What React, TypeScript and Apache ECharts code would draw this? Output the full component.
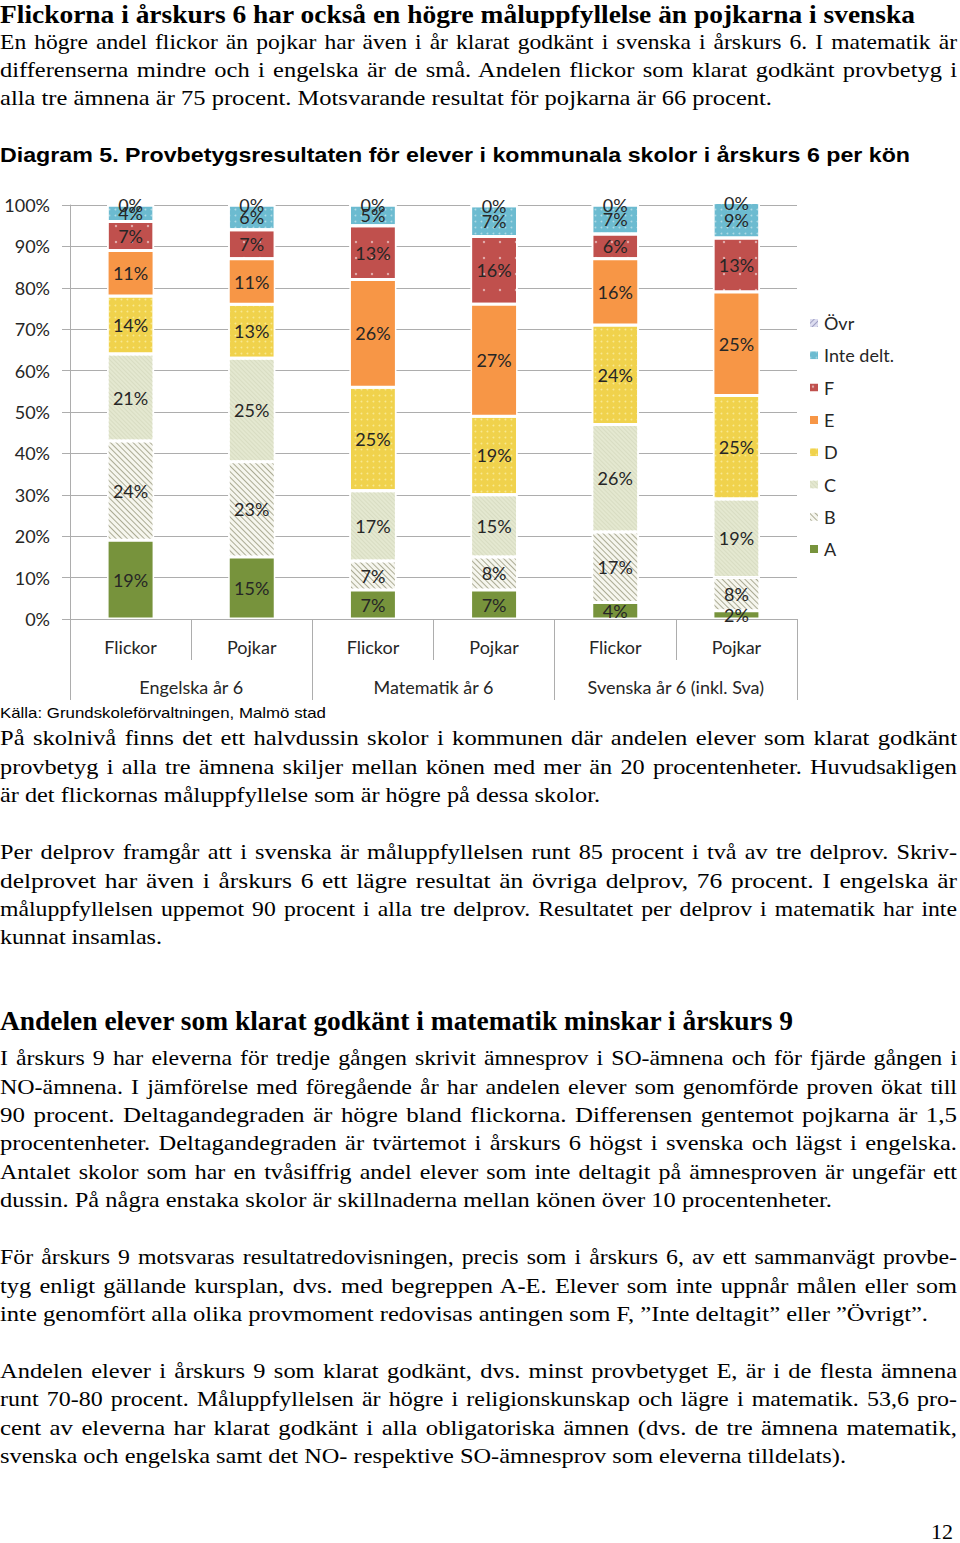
import React, { useEffect, useLayoutEffect, useRef } from 'react';
import * as echarts from 'echarts';

// ---------- chart data ----------
const categories = ['Flickor', 'Pojkar', 'Flickor', 'Pojkar', 'Flickor', 'Pojkar'];
const subjects = ['Engelska år 6', 'Matematik år 6', 'Svenska år 6 (inkl. Sva)'];
const gradeA = [19, 15, 7, 7, 4, 2];
const gradeB = [24, 23, 7, 8, 17, 8];
const gradeC = [21, 25, 17, 15, 26, 19];
const gradeD = [14, 13, 25, 19, 24, 25];
const gradeE = [11, 11, 26, 27, 16, 25];
const gradeF = [7, 7, 13, 16.4, 6, 13];
const inteDelt = [4, 6, 5, 7.4, 7, 8.6];
const ovr = [0, 0, 0, 0, 0, 0];
const yTicks = [0, 100, 10];
const legendOrder = ['Övr', 'Inte delt.', 'F', 'E', 'D', 'C', 'B', 'A'];

// ---------- page text ----------
const SERIF = '"Liberation Serif", "DejaVu Serif", serif';
const SANS = '"Liberation Sans", Arial, sans-serif';

type Ln = { t: string; y: number; w: number; j?: boolean };
type Block = { lines: Ln[]; font: string; size: number; weight?: number };

const FULL = 957;

const blocks: Block[] = [
  { font: SERIF, size: 26, weight: 700, lines: [
    { t: 'Flickorna i årskurs 6 har också en högre måluppfyllelse än pojkarna i svenska', y: 15, w: 915 },
  ] },
  { font: SERIF, size: 22, lines: [
    { t: 'En högre andel flickor än pojkar har även i år klarat godkänt i svenska i årskurs 6. I matematik är', y: 42, w: FULL, j: true },
    { t: 'differenserna mindre och i engelska är de små. Andelen flickor som klarat godkänt provbetyg i', y: 70, w: FULL, j: true },
    { t: 'alla tre ämnena är 75 procent. Motsvarande resultat för pojkarna är 66 procent.', y: 98, w: 772 },
  ] },
  { font: SANS, size: 21, weight: 700, lines: [
    { t: 'Diagram 5. Provbetygsresultaten för elever i kommunala skolor i årskurs 6 per kön', y: 155, w: 910 },
  ] },
  { font: SANS, size: 15, lines: [
    { t: 'Källa: Grundskoleförvaltningen, Malmö stad', y: 713, w: 326 },
  ] },
  { font: SERIF, size: 22, lines: [
    { t: 'På skolnivå finns det ett halvdussin skolor i kommunen där andelen elever som klarat godkänt', y: 738, w: FULL, j: true },
    { t: 'provbetyg i alla tre ämnena skiljer mellan könen med mer än 20 procentenheter. Huvudsakligen', y: 767, w: FULL, j: true },
    { t: 'är det flickornas måluppfyllelse som är högre på dessa skolor.', y: 795, w: 600 },
  ] },
  { font: SERIF, size: 22, lines: [
    { t: 'Per delprov framgår att i svenska är måluppfyllelsen runt 85 procent i två av tre delprov. Skriv-', y: 852, w: FULL, j: true },
    { t: 'delprovet har även i årskurs 6 ett lägre resultat än övriga delprov, 76 procent. I engelska är', y: 881, w: FULL, j: true },
    { t: 'måluppfyllelsen uppemot 90 procent i alla tre delprov. Resultatet per delprov i matematik har inte', y: 909, w: FULL, j: true },
    { t: 'kunnat insamlas.', y: 937, w: 162 },
  ] },
  { font: SERIF, size: 27, weight: 700, lines: [
    { t: 'Andelen elever som klarat godkänt i matematik minskar i årskurs 9', y: 1022, w: 793 },
  ] },
  { font: SERIF, size: 22, lines: [
    { t: 'I årskurs 9 har eleverna för tredje gången skrivit ämnesprov i SO-ämnena och för fjärde gången i', y: 1058, w: FULL, j: true },
    { t: 'NO-ämnena. I jämförelse med föregående år har andelen elever som genomförde proven ökat till', y: 1087, w: FULL, j: true },
    { t: '90 procent. Deltagandegraden är högre bland flickorna. Differensen gentemot pojkarna är 1,5', y: 1115, w: FULL, j: true },
    { t: 'procentenheter. Deltagandegraden är tvärtemot i årskurs 6 högst i svenska och lägst i engelska.', y: 1143, w: FULL, j: true },
    { t: 'Antalet skolor som har en tvåsiffrig andel elever som inte deltagit på ämnesproven är ungefär ett', y: 1172, w: FULL, j: true },
    { t: 'dussin. På några enstaka skolor är skillnaderna mellan könen över 10 procentenheter.', y: 1200, w: 832 },
  ] },
  { font: SERIF, size: 22, lines: [
    { t: 'För årskurs 9 motsvaras resultatredovisningen, precis som i årskurs 6, av ett sammanvägt provbe-', y: 1257, w: FULL, j: true },
    { t: 'tyg enligt gällande kursplan, dvs. med begreppen A-E. Elever som inte uppnår målen eller som', y: 1286, w: FULL, j: true },
    { t: 'inte genomfört alla olika provmoment redovisas antingen som F, ”Inte deltagit” eller ”Övrigt”.', y: 1314, w: 928 },
  ] },
  { font: SERIF, size: 22, lines: [
    { t: 'Andelen elever i årskurs 9 som klarat godkänt, dvs. minst provbetyget E, är i de flesta ämnena', y: 1371, w: FULL, j: true },
    { t: 'runt 70-80 procent. Måluppfyllelsen är högre i religionskunskap och lägre i matematik. 53,6 pro-', y: 1399, w: FULL, j: true },
    { t: 'cent av eleverna har klarat godkänt i alla obligatoriska ämnen (dvs. de tre ämnena matematik,', y: 1428, w: FULL, j: true },
    { t: 'svenska och engelska samt det NO- respektive SO-ämnesprov som eleverna tilldelats).', y: 1456, w: 846 },
  ] },
];

const GRID = '#ADADAD';
const TXT = '#262626';
const FONT = 'Lato, "Open Sans", sans-serif';

function Chart() {
  const ref = useRef<HTMLDivElement>(null);
  useEffect(() => {
    if (!ref.current) return;
    const chart = echarts.init(ref.current, null, { renderer: 'svg' });
    const label = {
      show: true,
      position: 'inside',
      formatter: (p: any) => `${Math.round(p.value)}%`,
      fontSize: 18,
      fontFamily: FONT,
      color: TXT,
      textBorderWidth: 0,
    };
    const mk = (name: string, data: number[], color: string, decal?: any) => ({
      name,
      type: 'bar',
      stack: 'total',
      data,
      barWidth: 47,
      clip: false,
      label,
      itemStyle: { color, borderColor: '#ffffff', borderWidth: 1.5, decal },
      emphasis: { disabled: true },
    });
    const option = {
      animation: false,
      textStyle: { fontFamily: FONT },
      grid: { left: 70, right: 163, top: 15, bottom: 91 },
      legend: {
        data: legendOrder,
        orient: 'vertical',
        left: 803,
        top: 118,
        itemWidth: 10,
        itemHeight: 10,
        itemGap: 12.3,
        icon: 'rect',
        textStyle: { fontSize: 18, color: TXT, fontFamily: FONT, lineHeight: 20 },
      },
      xAxis: [
        {
          type: 'category',
          data: categories,
          axisLine: { show: true, lineStyle: { color: GRID, width: 1 } },
          axisTick: { show: true, length: 41, interval: 0, lineStyle: { color: GRID } },
          axisLabel: { margin: 19, fontSize: 18, color: TXT, fontFamily: FONT, interval: 0 },
        },
        {
          type: 'category',
          data: subjects,
          position: 'bottom',
          offset: 0,
          axisLine: { show: false },
          axisTick: { show: true, length: 81, interval: 0, lineStyle: { color: GRID } },
          axisLabel: { margin: 59, fontSize: 18, color: TXT, fontFamily: FONT, interval: 0 },
          splitLine: { show: false },
        },
      ],
      yAxis: {
        type: 'value',
        min: yTicks[0],
        max: yTicks[1],
        interval: yTicks[2],
        axisLine: { show: true, lineStyle: { color: GRID } },
        axisTick: { show: true, length: 8, lineStyle: { color: GRID } },
        axisLabel: { formatter: '{value}%', margin: 20, fontSize: 18, color: TXT, fontFamily: FONT },
        splitLine: { lineStyle: { color: GRID } },
      },
      series: [
        mk('A', gradeA, '#77933C'),
        mk('B', gradeB, '#F6F6EE', { symbol: 'rect', dashArrayX: [1, 0], dashArrayY: [1, 2.4], rotation: Math.PI / 4, color: '#ABAB94' }),
        mk('C', gradeC, '#E4E8D0', { symbol: 'rect', dashArrayX: [1, 0], dashArrayY: [1, 2], rotation: Math.PI / 4, color: '#D8DCC2' }),
        mk('D', gradeD, '#F0D24C', { symbol: 'circle', symbolSize: 0.6, dashArrayX: 3, dashArrayY: 3, color: 'rgba(255,250,200,0.55)' }),
        mk('E', gradeE, '#F79646'),
        mk('F', gradeF, '#C0504D', { symbol: 'circle', symbolSize: 0.3, dashArrayX: 8, dashArrayY: 8, color: 'rgba(255,255,255,0.55)' }),
        mk('Inte delt.', inteDelt, '#6CBBD0', { symbol: 'circle', symbolSize: 0.6, dashArrayX: 3, dashArrayY: 3, color: 'rgba(255,255,255,0.45)' }),
        mk('Övr', ovr, '#DCDCEF', { symbol: 'rect', dashArrayX: [1, 0], dashArrayY: [1, 2.4], rotation: -Math.PI / 4, color: '#A0A0C4' }),
      ],
    };
    chart.setOption(option as any);
    return () => chart.dispose();
  }, []);
  return <div ref={ref} style={{ position: 'absolute', left: 0, top: 190, width: 960, height: 520 }} />;
}

export default function App() {
  const root = useRef<HTMLDivElement>(null);

  useLayoutEffect(() => {
    const fit = () => {
      if (!root.current) return;
      const els = root.current.querySelectorAll<HTMLElement>('[data-w]');
      els.forEach((el) => {
        el.style.wordSpacing = '0px';
        el.style.transform = 'none';
        const nat = el.getBoundingClientRect().width;
        const target = Number(el.dataset.w);
        if (!nat) return;
        if (el.dataset.j === '1') {
          const spaces = (el.textContent || '').split(' ').length - 1;
          const g = 2;
          const s = target / (nat + spaces * g);
          el.style.wordSpacing = `${g}px`;
          el.style.transform = `scaleX(${s})`;
        } else {
          el.style.transform = `scaleX(${target / nat})`;
        }
      });
    };
    fit();
    if ((document as any).fonts && (document as any).fonts.ready) {
      (document as any).fonts.ready.then(fit);
    }
  }, []);

  return (
    <div
      ref={root}
      style={{ position: 'absolute', left: 0, top: 0, width: 960, height: 1543, background: '#fff', overflow: 'hidden', color: '#000' }}
    >
      {blocks.map((b, bi) =>
        b.lines.map((l, li) => {
          const lh = b.size >= 25 ? b.size : b.size * 1.2;
          const off = b.size >= 25 ? 0.507 : 0.6;
          return (
            <div
              key={`${bi}-${li}`}
              data-w={l.w}
              data-j={l.j ? '1' : '0'}
              style={{
                position: 'absolute',
                left: 0,
                top: l.y - b.size * off,
                fontFamily: b.font,
                fontSize: b.size,
                fontWeight: b.weight || 400,
                lineHeight: `${lh}px`,
                whiteSpace: 'nowrap',
                transformOrigin: '0 50%',
              }}
            >
              {l.t}
            </div>
          );
        })
      )}
      <div
        style={{ position: 'absolute', left: 931, top: 1532 - 13, fontFamily: SERIF, fontSize: 22, lineHeight: '26px' }}
      >
        12
      </div>
      <Chart />
    </div>
  );
}
